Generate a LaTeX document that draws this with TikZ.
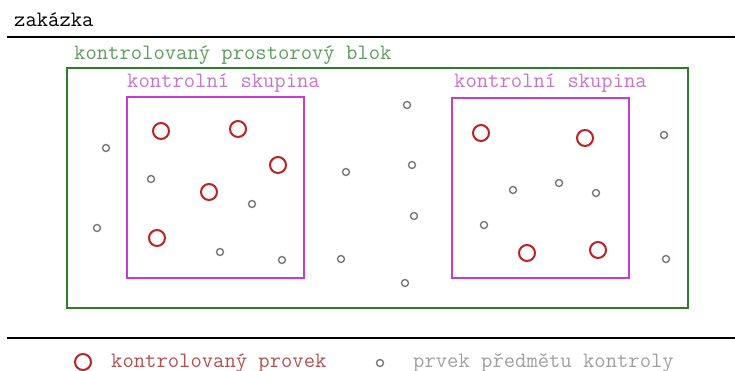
\documentclass[tikz,border=0pt]{standalone}
\usepackage{fontspec}
\definecolor{blokgreen}{RGB}{45,125,45}
\definecolor{blokgreentext}{RGB}{95,155,95}
\definecolor{skupmag}{RGB}{200,60,205}
\definecolor{skupmagtext}{RGB}{200,115,205}
\definecolor{provred}{RGB}{190,35,35}
\definecolor{provredtext}{RGB}{180,80,80}
\definecolor{prvgrey}{RGB}{120,120,120}
\definecolor{prvgreytext}{RGB}{160,160,160}
\begin{document}
\begin{tikzpicture}[x=1pt,y=-1pt,
    lbl/.style={anchor=base west, inner sep=0pt, font=\fontsize{22}{25}\selectfont\ttfamily},
    provek/.style={circle, draw=provred, line width=2pt, minimum size=16pt, inner sep=0pt},
    prvek/.style={circle, draw=prvgrey, line width=1.4pt, minimum size=7pt, inner sep=0pt}]
    \useasboundingbox (0,0) rectangle (735,371);

    % Zakazka
    \node[lbl] (zak) at (14,27) {zakázka};
    \draw[line width=2.6pt] (7,37) -- (735,37);
    \draw[line width=2.6pt] (7,338) -- (735,338);

    % Prostorovy blok
    \node[lbl, text=blokgreentext] (blok) at (74,60) {kontrolovaný prostorový blok};
    \draw[blokgreen, line width=2pt] (67,68) rectangle (688,308);

    % Kontrolni skupiny
    \node[lbl, text=skupmagtext] (sk1) at (127,88) {kontrolní skupina};
    \draw[skupmag, line width=2pt] (127,97) rectangle (304,278);
    \node[lbl, text=skupmagtext] (sk2) at (454,88) {kontrolní skupina};
    \draw[skupmag, line width=2pt] (452,98) rectangle (629,278);

    % Kontrolovane provky
    \node[provek] (r1) at (161,131) {};
    \node[provek] (r2) at (238,129) {};
    \node[provek] (r3) at (278,165) {};
    \node[provek] (r4) at (209,192) {};
    \node[provek] (r5) at (157,238) {};
    \node[provek] (r6) at (481,133) {};
    \node[provek] (r7) at (585,138) {};
    \node[provek] (r8) at (527,253) {};
    \node[provek] (r9) at (598,250) {};

    % Prvky predmetu kontroly
    \foreach \px/\py [count=\i] in {106/148, 151/179, 252/204, 97/228, 220/252,
        282/260, 346/172, 341/259, 407/105, 412/165, 414/216, 405/283,
        513/190, 559/183, 596/193, 484/225, 664/135, 666/259}
        \node[prvek] (g\i) at (\px,\py) {};

    % Legenda
    \node[provek] (lr) at (83,362) {};
    \node[lbl, text=provredtext] (lrt) at (111,367) {kontrolovaný provek};
    \node[prvek] (lg) at (380,363) {};
    \node[lbl, text=prvgreytext] (lgt) at (413,367) {prvek předmětu kontroly};
\end{tikzpicture}
\end{document}
